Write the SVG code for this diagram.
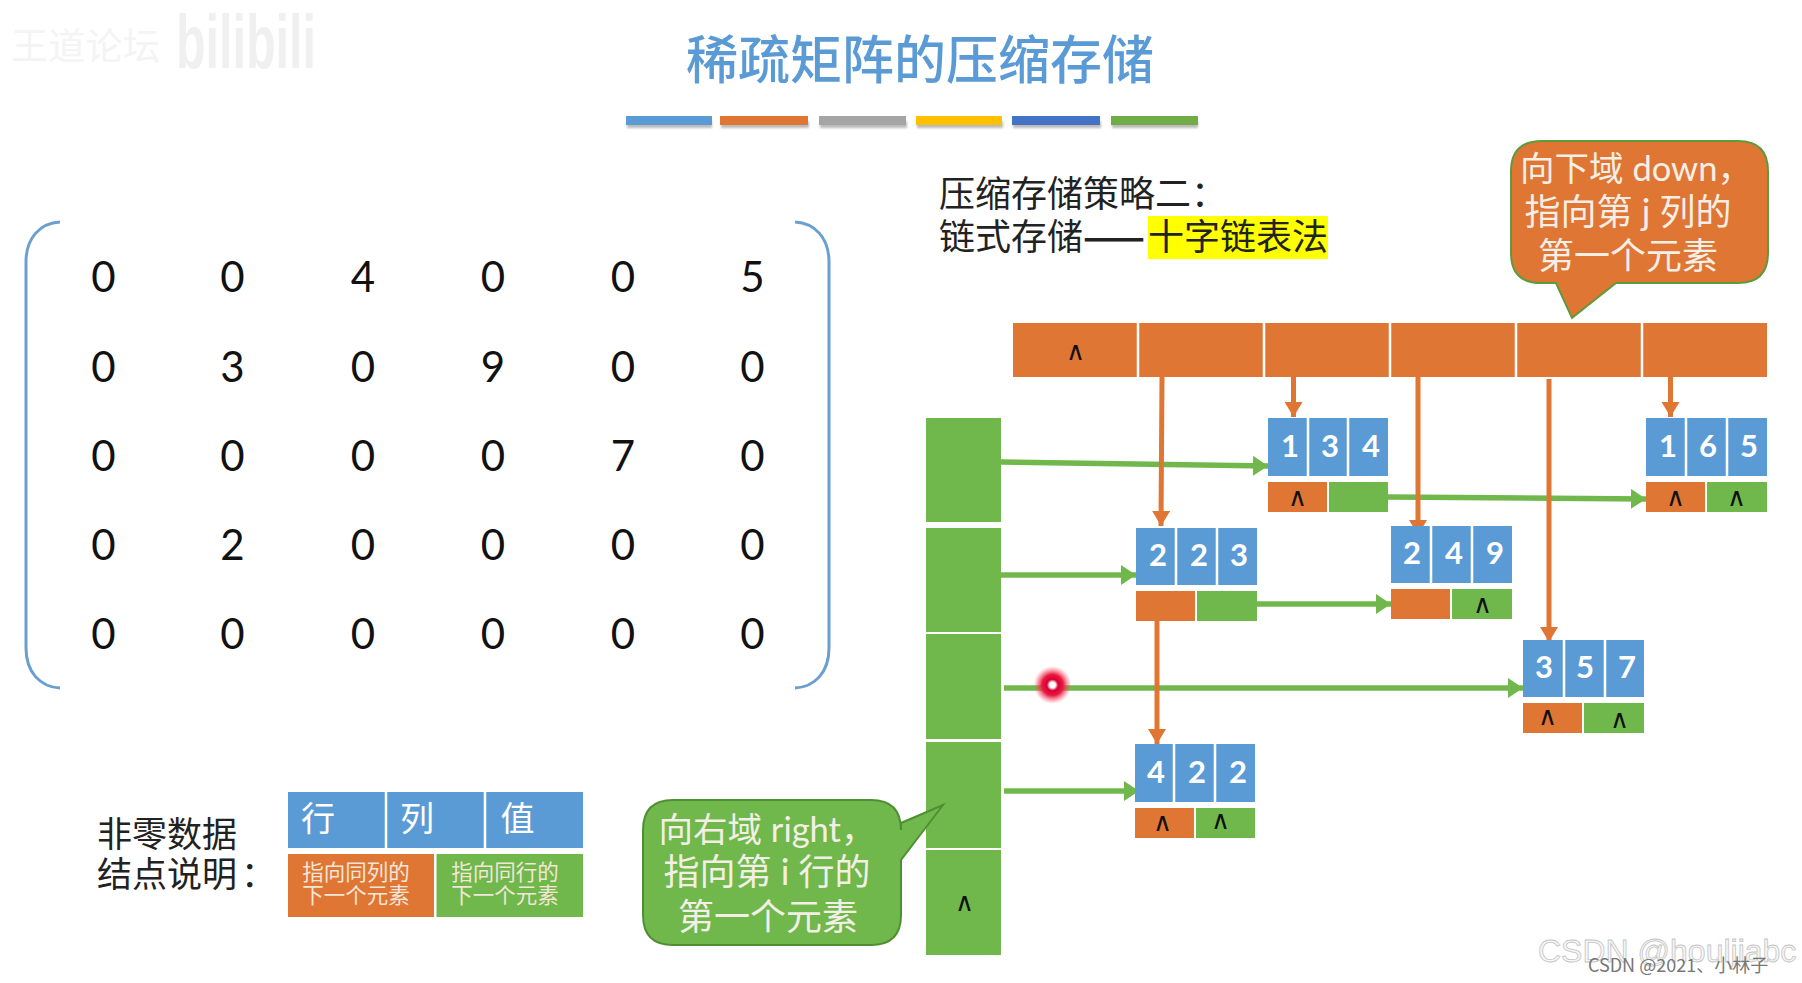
<svg xmlns="http://www.w3.org/2000/svg" width="1802" height="983" viewBox="0 0 1802 983">
<style>
text{font-family:"Noto Sans CJK SC","Liberation Sans",sans-serif}
.b{fill:#5B9BD5}.o{fill:#E07634}.g{fill:#70B84C}
.d{font-family:Lato,"Liberation Sans",sans-serif;font-weight:700;font-size:31px;fill:#fff;text-anchor:middle;dominant-baseline:central}
.m{font-family:Lato,"Open Sans",sans-serif;font-size:42px;fill:#111;text-anchor:middle;dominant-baseline:central}
.n{font-family:"Liberation Sans",sans-serif;font-size:26px;fill:#111;text-anchor:middle;dominant-baseline:central}
.k{font-size:35px;fill:#222}
.w{font-family:Lato,"Noto Sans CJK SC",sans-serif;font-size:36px;fill:#F3EFE6;text-anchor:middle}
.s{font-size:21.500px;fill:#F2E6D8;text-anchor:middle}
.co{stroke:#E07634;stroke-width:5;fill:none;marker-end:url(#ao)}
.cg{stroke:#70B84C;stroke-width:5.500;fill:none;marker-end:url(#ag)}
.sep{stroke:#fff;stroke-width:2.500}
.br{fill:none;stroke:#6A9FD0;stroke-width:3}
</style>
<defs>
<marker id="ao" markerUnits="userSpaceOnUse" markerWidth="16" markerHeight="18" refX="15" refY="9" orient="auto"><path d="M0 0L15 9L0 18Z" fill="#E07634"/></marker>
<marker id="ag" markerUnits="userSpaceOnUse" markerWidth="16" markerHeight="20" refX="15" refY="10" orient="auto"><path d="M0 0L15 10L0 20Z" fill="#70B84C"/></marker>
<radialGradient id="laser"><stop offset="0" stop-color="#fff"/><stop offset=".15" stop-color="#fff"/><stop offset=".3" stop-color="#D80030"/><stop offset=".55" stop-color="#E81840"/><stop offset="1" stop-color="#FF6070" stop-opacity="0"/></radialGradient>
<filter id="soft" x="-20%" y="-20%" width="140%" height="140%"><feGaussianBlur stdDeviation="0.8"/></filter>
</defs>
<rect width="1802" height="983" fill="#fff"/>

<g id="watermark-top">
<text x="11" y="60" font-size="37" fill="#F4F4F4" textLength="149" lengthAdjust="spacingAndGlyphs">王道论坛</text>
<text x="176" y="68" font-size="76" fill="#F0F0F0" font-weight="700" style="font-family:'Liberation Sans',sans-serif" textLength="140" lengthAdjust="spacingAndGlyphs">bilibili</text>
</g>

<g id="title"><text x="920" y="79" font-size="52" font-weight="500" fill="#5B9BD5" text-anchor="middle">稀疏矩阵的压缩存储</text></g>

<g id="colour-bars">
<g fill="#bbb" filter="url(#soft)"><rect x="627" y="121" width="85" height="7"/><rect x="721" y="121" width="88" height="7"/><rect x="820" y="121" width="87" height="7"/><rect x="917" y="121" width="86" height="7"/><rect x="1013" y="121" width="88" height="7"/><rect x="1112" y="121" width="86" height="7"/></g>
<rect x="626" y="116" width="86" height="9" fill="#5B9BD5"/>
<rect x="720" y="116" width="88" height="9" fill="#E07634"/>
<rect x="819" y="116" width="87" height="9" fill="#A5A5A5"/>
<rect x="916" y="116" width="86" height="9" fill="#FFC000"/>
<rect x="1012" y="116" width="88" height="9" fill="#4472C4"/>
<rect x="1111" y="116" width="87" height="9" fill="#70AD47"/>
</g>

<g id="matrix">
<path class="br" d="M60 222C40 223 26 238 26 262V648C26 672 40 687 60 688"/>
<path class="br" d="M795 222C815 223 829 238 829 262V648C829 672 815 687 795 688"/>
<text class="m" x="103.500" y="276">0</text><text class="m" x="232.500" y="276">0</text><text class="m" x="363" y="276">4</text><text class="m" x="493" y="276">0</text><text class="m" x="623" y="276">0</text><text class="m" x="752.500" y="276">5</text>
<text class="m" x="103.500" y="366">0</text><text class="m" x="232.500" y="366">3</text><text class="m" x="363" y="366">0</text><text class="m" x="493" y="366">9</text><text class="m" x="623" y="366">0</text><text class="m" x="752.500" y="366">0</text>
<text class="m" x="103.500" y="455">0</text><text class="m" x="232.500" y="455">0</text><text class="m" x="363" y="455">0</text><text class="m" x="493" y="455">0</text><text class="m" x="623" y="455">7</text><text class="m" x="752.500" y="455">0</text>
<text class="m" x="103.500" y="544">0</text><text class="m" x="232.500" y="544">2</text><text class="m" x="363" y="544">0</text><text class="m" x="493" y="544">0</text><text class="m" x="623" y="544">0</text><text class="m" x="752.500" y="544">0</text>
<text class="m" x="103.500" y="633">0</text><text class="m" x="232.500" y="633">0</text><text class="m" x="363" y="633">0</text><text class="m" x="493" y="633">0</text><text class="m" x="623" y="633">0</text><text class="m" x="752.500" y="633">0</text>
</g>

<g id="strategy">
<rect x="1148" y="216" width="180" height="43" fill="#FFFF00"/>
<text class="k" x="939" y="207" style="font-size:36px">压缩存储策略二：</text>
<text class="k" x="939" y="250" style="font-size:36px">链式存储<tspan x="1083" font-weight="700" textLength="62" lengthAdjust="spacingAndGlyphs">——</tspan><tspan x="1148">十字链表法</tspan></text>
</g>

<g id="column-heads">
<rect class="o" x="1013" y="323" width="754" height="54"/>
<path class="sep" d="M1138 323V377M1264 323V377M1390 323V377M1516 323V377M1642 323V377"/>
<text class="n" x="1075.500" y="351">∧</text>
</g>

<g id="row-heads">
<rect class="g" x="926" y="418" width="75" height="104"/>
<rect class="g" x="926" y="528" width="75" height="104"/>
<rect class="g" x="926" y="634" width="75" height="105"/>
<rect class="g" x="926" y="742" width="75" height="106"/>
<rect class="g" x="926" y="850" width="75" height="105"/>
<text class="n" x="964.500" y="902">∧</text>
</g>

<g id="connectors">
<path class="cg" d="M1001 462L1268 466"/>
<path class="cg" d="M1388 497L1646 499"/>
<path class="cg" d="M1001 575H1136"/>
<path class="cg" d="M1257 604H1391"/>
<path class="cg" d="M1004 688H1523"/>
<path class="cg" d="M1004 791H1139"/>
<path class="co" d="M1162 377L1161 526"/>
<path class="co" d="M1293.500 377V417"/>
<path class="co" d="M1418 377V535"/>
<path class="co" d="M1549 379V642"/>
<path class="co" d="M1670.500 377V417"/>
<path class="co" d="M1157 621V744"/>
</g>

<g id="node-134">
<rect class="b" x="1268" y="418" width="120" height="58"/><path class="sep" d="M1308 418V476M1348 418V476"/>
<text class="d" x="1290" y="445">1</text><text class="d" x="1330" y="445">3</text><text class="d" x="1371" y="445">4</text>
<rect class="o" x="1268" y="482" width="59" height="30"/><rect class="g" x="1329" y="482" width="59" height="30"/>
<text class="n" x="1297" y="497">∧</text>
</g>
<g id="node-165">
<rect class="b" x="1646" y="418" width="121" height="58"/><path class="sep" d="M1686 418V476M1727 418V476"/>
<text class="d" x="1668" y="445">1</text><text class="d" x="1708" y="445">6</text><text class="d" x="1749" y="445">5</text>
<rect class="o" x="1646" y="482" width="59" height="30"/><rect class="g" x="1707" y="482" width="60" height="30"/>
<text class="n" x="1675.500" y="497">∧</text><text class="n" x="1736" y="497">∧</text>
</g>
<g id="node-223">
<rect class="b" x="1136" y="528" width="121" height="57"/><path class="sep" d="M1176 528V585M1217 528V585"/>
<text class="d" x="1158" y="554">2</text><text class="d" x="1199" y="554">2</text><text class="d" x="1239" y="554">3</text>
<rect class="o" x="1136" y="591" width="59" height="30"/><rect class="g" x="1197" y="591" width="60" height="30"/>
</g>
<g id="node-249">
<rect class="b" x="1391" y="526" width="121" height="57"/><path class="sep" d="M1431 526V583M1472 526V583"/>
<text class="d" x="1412" y="552">2</text><text class="d" x="1454" y="552">4</text><text class="d" x="1495" y="552">9</text>
<rect class="o" x="1391" y="589" width="59" height="30"/><rect class="g" x="1452" y="589" width="60" height="30"/>
<text class="n" x="1482" y="604">∧</text>
</g>
<g id="node-357">
<rect class="b" x="1523" y="640" width="121" height="57"/><path class="sep" d="M1564 640V697M1605 640V697"/>
<text class="d" x="1544" y="666">3</text><text class="d" x="1585" y="666">5</text><text class="d" x="1627" y="666">7</text>
<rect class="o" x="1523" y="703" width="59" height="30"/><rect class="g" x="1584" y="703" width="60" height="30"/>
<text class="n" x="1547" y="716">∧</text><text class="n" x="1619" y="719">∧</text>
</g>
<g id="node-422">
<rect class="b" x="1135" y="744" width="120" height="58"/><path class="sep" d="M1174 744V802M1215 744V802"/>
<text class="d" x="1156" y="771">4</text><text class="d" x="1197" y="771">2</text><text class="d" x="1238" y="771">2</text>
<rect class="o" x="1135" y="808" width="59" height="30"/><rect class="g" x="1196" y="808" width="59" height="30"/>
<text class="n" x="1162" y="822">∧</text><text class="n" x="1220" y="820">∧</text>
</g>

<g id="laser-dot"><circle cx="1052.500" cy="685" r="19" fill="url(#laser)"/></g>

<g id="callout-down">
<path d="M1542 141H1738Q1768 141 1768 171V253Q1768 283 1738 283H1616L1572 318L1556 283H1541Q1511 283 1511 253V171Q1511 141 1542 141Z" fill="#E07634" stroke="#5E9A3C" stroke-width="2"/>
<text class="w" x="1636" y="181" style="font-size:34.500px">向下域 down，</text>
<text class="w" x="1628" y="225">指向第 j 列的</text>
<text class="w" x="1628" y="269">第一个元素</text>
</g>

<g id="callout-right">
<path d="M673 800H871Q901 800 901 830V823L943 805L901 860V915Q901 945 871 945H673Q643 945 643 915V830Q643 800 673 800Z" fill="#70B84C" stroke="#4F8F33" stroke-width="2"/>
<text class="w" x="767" y="842" style="font-size:34.500px">向右域 right，</text>
<text class="w" x="767" y="885">指向第 i 行的</text>
<text class="w" x="768" y="930">第一个元素</text>
</g>

<g id="legend">
<text class="k" x="97" y="847">非零数据</text>
<text class="k" x="97" y="887">结点说明<tspan dx="4">：</tspan></text>
<rect class="b" x="288" y="792" width="295" height="56"/><path class="sep" d="M386 792V848M485 792V848"/>
<text x="318" y="831" font-size="34" fill="#fff" text-anchor="middle">行</text>
<text x="417" y="831" font-size="34" fill="#fff" text-anchor="middle">列</text>
<text x="517.500" y="831" font-size="34" fill="#fff" text-anchor="middle">值</text>
<rect class="o" x="288" y="854" width="146" height="63"/><rect class="g" x="436.500" y="854" width="146.500" height="63"/>
<text class="s" x="356" y="880">指向同列的</text><text class="s" x="356" y="903">下一个元素</text>
<text class="s" x="505" y="880">指向同行的</text><text class="s" x="505" y="903">下一个元素</text>
</g>

<g id="watermark-bottom">
<text x="1538" y="962" font-size="32" fill="#F6F6F6" stroke="#C4C4C4" stroke-width="0.8" style="font-family:'Liberation Sans',sans-serif">CSDN @houljiabc</text>
<text x="1588" y="972" font-size="18" fill="#777">CSDN @2021、小林子</text>
</g>
</svg>
